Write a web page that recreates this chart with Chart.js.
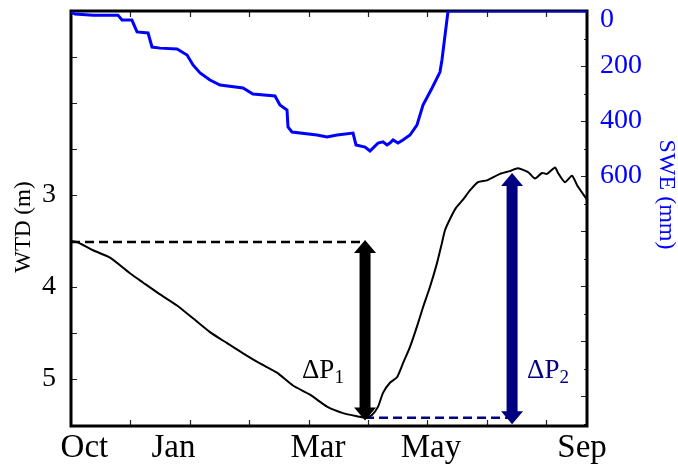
<!DOCTYPE html>
<html>
<head>
<meta charset="utf-8">
<script src="https://cdn.jsdelivr.net/npm/chart.js@4/dist/chart.umd.min.js"></script>
<style>
  body { margin: 0; background: #fff; }
  canvas { display: block; }
</style>
</head>
<body>
<canvas id="chart" width="678" height="464"></canvas>
<script>
"use strict";

// water table depth (m), days since 1 Oct
var wtdDay = [0, 4.2, 15.6, 27.6, 41.7, 50.9, 63.0, 75.0, 86.3, 98.3, 110.4, 121.7, 133.7, 145.7, 157.0, 169.1, 181.1, 192.4, 204.4, 208.0,
              212.9, 217.2, 220.7, 225.6, 230.6, 234.8, 239.8, 244.7, 249.0, 253.9, 258.9, 262.4, 264.6, 268.1, 272.3, 277.3, 282.2, 287.9,
              294.3, 303.5, 310.5, 316.2, 323.3, 328.2, 333.2, 336.7, 342.4, 344.5, 349.4, 354.4, 357.9, 363.6, 365];
var wtdDepth = [3.50, 3.51, 3.60, 3.68, 3.85, 3.95, 4.08, 4.20, 4.34, 4.49, 4.61, 4.72, 4.83, 4.93, 5.07, 5.17, 5.30, 5.37, 5.41, 5.42,
                5.39, 5.30, 5.15, 5.04, 4.98, 4.83, 4.65, 4.43, 4.22, 4.00, 3.74, 3.52, 3.38, 3.26, 3.14, 3.05, 2.95, 2.86,
                2.84, 2.77, 2.74, 2.71, 2.75, 2.82, 2.76, 2.77, 2.70, 2.76, 2.86, 2.79, 2.89, 3.02, 3.05];

// snow water equivalent (mm)
var sweDay = [0, 2.8, 15.6, 33.2, 36.1, 43.1, 46.7, 54.5, 57.3, 63.0, 75.0, 82.1, 86.3, 91.3, 98.3, 105.4, 121.7, 128.7, 144.3, 147.8,
              152.8, 153.5, 156.3, 174.0, 181.1, 188.2, 199.5, 201.6, 208.0, 211.5, 214.3, 217.2, 220.7, 223.5, 225.6, 227.8, 231.3,
              234.8, 239.8, 244.7, 249.0, 255.4, 261.0, 262.4, 266.7, 365];
var sweMm = [4, 11, 15, 15, 33, 33, 76, 80, 131, 135, 138, 160, 196, 225, 251, 269, 280, 302, 309, 342,
             360, 422, 440, 451, 458, 451, 444, 487, 495, 509, 495, 480, 476, 487, 480, 469, 480,
             469, 451, 415, 342, 280, 222, 178, 0, 0];

var monthLabels = ["Oct", "Jan", "Mar", "May", "Sep"];
var monthDay = [9.5, 72.5, 174.7, 254.6, 361.5];
var wtdLabels = [3, 4, 5];
var sweLabels = [0, 200, 400, 600];

// reference levels and the two drawdown / recovery arrows
var preLevel = 3.51, minLevel = 5.42;
var arrowName = ["ΔP", "ΔP"];
var arrowSub = ["1", "2"];
var arrowDay = [208, 312];
var arrowTop = [3.49, 2.76];
var arrowBottom = [5.45, 5.49];

var FONT = "'Liberation Serif', 'Times New Roman', serif";
var NAVY = "#000080";
var BLUE = "#0000ff";

function pts(xs, ys) {
    return xs.map(function (x, i) { return { x: x, y: ys[i] }; });
}

function noPad(scale) {
    scale.paddingTop = 0;
    scale.paddingBottom = 0;
    scale.paddingLeft = 0;
    scale.paddingRight = 0;
}

// frame with small inward tick marks
var framePlugin = {
    id: "frame",
    beforeDatasetsDraw: function (chart) {
        var ctx = chart.ctx, a = chart.chartArea;
        var sx = chart.scales.x, sy = chart.scales.y, s2 = chart.scales.y2;
        ctx.save();
        ctx.strokeStyle = "#222";
        ctx.lineWidth = 1.2;
        ctx.beginPath();
        for (var d = 42; d < 365; d += 42) {
            var px = Math.round(sx.getPixelForValue(d)) + 0.5;
            ctx.moveTo(px, a.bottom); ctx.lineTo(px, a.bottom - 6);
            ctx.moveTo(px, a.top); ctx.lineTo(px, a.top + 6);
        }
        for (var w = 1.5; w <= 5.5; w += 0.5) {
            var py = Math.round(sy.getPixelForValue(w)) + 0.5;
            ctx.moveTo(a.left, py); ctx.lineTo(a.left + 6, py);
        }
        for (var s = 100; s <= 1500; s += 100) {
            var py2 = Math.round(s2.getPixelForValue(s)) + 0.5;
            ctx.moveTo(a.right, py2); ctx.lineTo(a.right - (s % 200 === 0 ? 6 : 3), py2);
        }
        ctx.stroke();
        ctx.strokeStyle = "#000";
        ctx.lineWidth = 3;
        ctx.strokeRect(a.left, a.top, a.right - a.left, a.bottom - a.top);
        ctx.restore();
    }
};

function arrow(ctx, x, yTop, yBot, color) {
    var hw = 11, hh = 13, sw = 5.5;
    ctx.fillStyle = color;
    ctx.beginPath();
    ctx.moveTo(x, yTop);
    ctx.lineTo(x + hw, yTop + hh);
    ctx.lineTo(x + sw, yTop + hh);
    ctx.lineTo(x + sw, yBot - hh);
    ctx.lineTo(x + hw, yBot - hh);
    ctx.lineTo(x, yBot);
    ctx.lineTo(x - hw, yBot - hh);
    ctx.lineTo(x - sw, yBot - hh);
    ctx.lineTo(x - sw, yTop + hh);
    ctx.lineTo(x - hw, yTop + hh);
    ctx.closePath();
    ctx.fill();
}

var arrowPlugin = {
    id: "arrows",
    afterDatasetsDraw: function (chart) {
        var ctx = chart.ctx, sx = chart.scales.x, sy = chart.scales.y;
        var colors = ["#000", NAVY];
        var labelDay = [163.4, 322.6], labelDepth = [4.99, 4.99];
        ctx.save();
        for (var i = 0; i < arrowDay.length; i++) {
            arrow(ctx, sx.getPixelForValue(arrowDay[i]), sy.getPixelForValue(arrowTop[i]),
                  sy.getPixelForValue(arrowBottom[i]), colors[i]);
            var lx = sx.getPixelForValue(labelDay[i]), ly = sy.getPixelForValue(labelDepth[i]);
            ctx.fillStyle = colors[i];
            ctx.textBaseline = "alphabetic";
            ctx.textAlign = "left";
            ctx.font = "27px " + FONT;
            ctx.fillText(arrowName[i], lx, ly);
            var w = ctx.measureText(arrowName[i]).width;
            ctx.font = "19px " + FONT;
            ctx.fillText(arrowSub[i], lx + w, ly + 5);
        }
        ctx.restore();
    }
};

var ctx = document.getElementById("chart").getContext("2d");
var chart = new Chart(ctx, {
    type: "line",
    data: {
        datasets: [
            {
                data: pts(sweDay, sweMm),
                yAxisID: "y2",
                borderColor: BLUE,
                borderWidth: 3,
                pointRadius: 0,
                tension: 0
            },
            {
                data: pts(wtdDay, wtdDepth),
                yAxisID: "y",
                borderColor: "#000",
                borderWidth: 2,
                pointRadius: 0,
                tension: 0.2
            },
            {
                data: pts([0, arrowDay[0]], [preLevel, preLevel]),
                yAxisID: "y",
                borderColor: "#000",
                borderWidth: 2.5,
                borderDash: [9, 5],
                pointRadius: 0
            },
            {
                data: pts([arrowDay[0], arrowDay[1] - 2], [minLevel, minLevel]),
                yAxisID: "y",
                borderColor: NAVY,
                borderWidth: 2.5,
                borderDash: [9, 5],
                pointRadius: 0
            }
        ]
    },
    options: {
        responsive: false,
        animation: false,
        layout: { padding: { top: 11, left: 0, right: 0, bottom: 0 } },
        plugins: { legend: { display: false }, tooltip: { enabled: false } },
        scales: {
            x: {
                type: "linear",
                position: "bottom",
                min: 0,
                max: 365,
                grid: { display: false },
                border: { display: false },
                afterBuildTicks: function (scale) {
                    scale.ticks = monthDay.map(function (v) { return { value: v }; });
                },
                afterFit: function (scale) { scale.height = 38; noPad(scale); },
                ticks: {
                    autoSkip: false,
                    maxRotation: 0,
                    padding: -2,
                    color: "#000",
                    font: { family: FONT, size: 33, lineHeight: 1 },
                    callback: function (v, i) { return monthLabels[i]; }
                }
            },
            y: {
                position: "left",
                reverse: true,
                min: 1,
                max: 5.51,
                grid: { display: false },
                border: { display: false },
                afterBuildTicks: function (scale) {
                    scale.ticks = wtdLabels.map(function (v) { return { value: v }; });
                },
                afterFit: function (scale) { scale.width = 71; noPad(scale); },
                ticks: {
                    padding: 7,
                    color: "#000",
                    font: { family: FONT, size: 28 }
                },
                title: {
                    display: true,
                    text: "WTD (m)   ",
                    color: "#000",
                    padding: { top: 12, bottom: 0 },
                    font: { family: FONT, size: 23, lineHeight: 1 }
                }
            },
            y2: {
                position: "right",
                reverse: true,
                min: 0,
                max: 1509,
                grid: { display: false },
                border: { display: false },
                afterBuildTicks: function (scale) {
                    scale.ticks = sweLabels.map(function (v) { return { value: v }; });
                },
                afterFit: function (scale) { scale.width = 91; noPad(scale); },
                ticks: {
                    padding: 5,
                    color: BLUE,
                    font: { family: FONT, size: 28, lineHeight: 0.65 },
                    // the top label sits just below the frame, as in the figure
                    callback: function (v) { return v === 0 ? ["", "0"] : String(v); }
                },
                title: {
                    display: true,
                    text: "SWE (mm)        ",
                    color: BLUE,
                    padding: 0,
                    font: { family: FONT, size: 24, lineHeight: 1 }
                }
            }
        }
    },
    plugins: [framePlugin, arrowPlugin]
});
</script>
</body>
</html>
